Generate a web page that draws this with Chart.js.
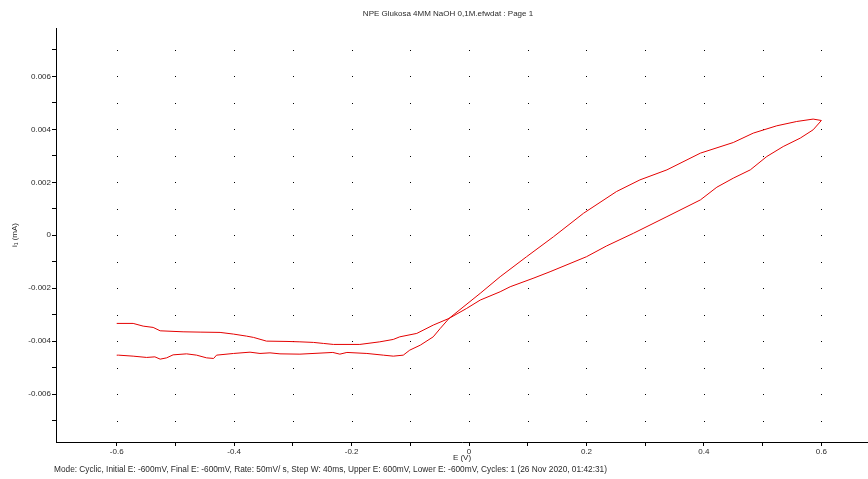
<!DOCTYPE html>
<html>
<head>
<meta charset="utf-8">
<script src="https://cdn.jsdelivr.net/npm/chart.js@4/dist/chart.umd.min.js"></script>
<style>
  html, body { margin: 0; padding: 0; background: #ffffff; }
  #wrap { width: 868px; height: 479px; }
</style>
</head>
<body>
<div id="wrap"><canvas id="cv" width="868" height="479"></canvas></div>
<script>
// Cyclic voltammogram, NPE electrode, 4 mM glucose in 0.1 M NaOH
// Forward sweep: -0.6 V -> 0.6 V  (E in V, i in mA)
const forwardE = [-0.600, -0.597, -0.572, -0.549, -0.535, -0.526, -0.515, -0.504, -0.481, -0.464,
  -0.447, -0.435, -0.430, -0.401, -0.373, -0.356, -0.339, -0.322, -0.288, -0.232,
  -0.220, -0.208, -0.174, -0.146, -0.129, -0.112, -0.101, -0.083, -0.061, -0.049,
  -0.034, 0.019, 0.053, 0.098, 0.144, 0.195, 0.251, 0.291, 0.337, 0.394,
  0.450, 0.484, 0.524, 0.558, 0.586, 0.600];
const forwardI = [-0.004530, -0.004529, -0.004567, -0.004616, -0.004593, -0.004680, -0.004631, -0.004518, -0.004480, -0.004529,
  -0.004631, -0.004654, -0.004529, -0.004465, -0.004416, -0.004465, -0.004442, -0.004480, -0.004491, -0.004427,
  -0.004491, -0.004427, -0.004465, -0.004529, -0.004567, -0.004529, -0.004340, -0.004151, -0.003837, -0.003519,
  -0.003140, -0.002194, -0.001566, -0.000810, -0.000053, 0.000832, 0.001650, 0.002092, 0.002471, 0.003103,
  0.003504, 0.003859, 0.004135, 0.004298, 0.004389, 0.004336];

// Reverse sweep: 0.6 V -> -0.6 V
const reverseE = [0.586, 0.564, 0.535, 0.507, 0.479, 0.450, 0.422, 0.394, 0.337, 0.280,
  0.234, 0.200, 0.138, 0.109, 0.070, 0.053, 0.019, -0.004, -0.034, -0.061,
  -0.089, -0.118, -0.129, -0.152, -0.186, -0.231, -0.248, -0.265, -0.288, -0.310,
  -0.345, -0.367, -0.379, -0.401, -0.424, -0.458, -0.487, -0.526, -0.538, -0.555,
  -0.572, -0.600];
const reverseI = [0.003984, 0.003670, 0.003352, 0.002974, 0.002471, 0.002157, 0.001816, 0.001336, 0.000704, 0.000076,
  -0.000405, -0.000810, -0.001377, -0.001627, -0.001945, -0.002134, -0.002448, -0.002762, -0.003140, -0.003394,
  -0.003708, -0.003837, -0.003935, -0.004026, -0.004124, -0.004124, -0.004086, -0.004048, -0.004026, -0.004011,
  -0.003999, -0.003859, -0.003810, -0.003734, -0.003670, -0.003659, -0.003647, -0.003609, -0.003481, -0.003432,
  -0.003330, -0.003330];

// Axis ticks (every tick gets a mark, every other one a label)
const xTickValues = [-0.6, -0.5, -0.4, -0.3, -0.2, -0.1, 0, 0.1, 0.2, 0.3, 0.4, 0.5, 0.6];
const xTickLabels = ['-0.6', '', '-0.4', '', '-0.2', '', '0', '', '0.2', '', '0.4', '', '0.6'];
const yTickValues = [-0.007, -0.006, -0.005, -0.004, -0.003, -0.002, -0.001, 0, 0.001, 0.002, 0.003, 0.004, 0.005, 0.006, 0.007];
const yTickLabels = ['', '-0.006', '', '-0.004', '', '-0.002', '', '0', '', '0.002', '', '0.004', '', '0.006', ''];

const chartTitle = 'NPE Glukosa 4MM NaOH 0,1M.efwdat : Page 1';
const footerText = 'Mode: Cyclic, Initial E: -600mV, Final E: -600mV, Rate: 50mV/ s, Step W: 40ms, Upper E: 600mV, Lower E: -600mV, Cycles: 1 (26 Nov 2020, 01:42:31)';

const FONT = '"Liberation Sans", Arial, sans-serif';
const TEXT_COLOR = '#2a2a2a';

const points = [];
forwardE.forEach((e, k) => points.push({ x: e, y: forwardI[k] }));
reverseE.forEach((e, k) => points.push({ x: e, y: reverseI[k] }));

// Dotted grid at every tick intersection, plus the header and footer lines
const dotGrid = {
  id: 'dotGrid',
  beforeDatasetsDraw(chart) {
    const { ctx, scales: { x, y } } = chart;
    ctx.save();
    ctx.fillStyle = '#000000';
    xTickValues.forEach(xv => {
      yTickValues.forEach(yv => {
        const px = Math.round(x.getPixelForValue(xv));
        const py = Math.round(y.getPixelForValue(yv));
        ctx.fillRect(px, py, 1, 1);
      });
    });
    ctx.restore();
  },
  afterDraw(chart) {
    const { ctx } = chart;
    ctx.save();
    ctx.fillStyle = TEXT_COLOR;
    ctx.textBaseline = 'middle';
    ctx.textAlign = 'center';
    ctx.font = '8px ' + FONT;
    ctx.fillText(chartTitle, 448, 14);
    ctx.textAlign = 'left';
    ctx.font = '8.3px ' + FONT;
    ctx.fillText(footerText, 54, 470);
    ctx.restore();
  }
};

new Chart(document.getElementById('cv'), {
  type: 'scatter',
  data: {
    datasets: [{
      data: points,
      showLine: true,
      borderColor: 'rgb(228, 0, 0)',
      backgroundColor: 'rgb(228, 0, 0)',
      borderWidth: 1,
      pointRadius: 0,
      tension: 0
    }]
  },
  options: {
    responsive: false,
    animation: false,
    devicePixelRatio: 1,
    layout: { padding: { top: 28, left: 0, right: 0, bottom: 0 } },
    plugins: { legend: { display: false }, tooltip: { enabled: false }, title: { display: false } },
    scales: {
      x: {
        type: 'linear',
        min: -0.7034,
        max: 0.6794,
        afterBuildTicks: s => { s.ticks = xTickValues.map(v => ({ value: v })); },
        afterFit: s => { s.height = 37; },
        border: { display: true, color: '#000000', width: 1 },
        grid: { drawOnChartArea: false, drawTicks: true, tickLength: 4, color: '#000000' },
        ticks: {
          autoSkip: false, maxRotation: 0, padding: 1,
          color: TEXT_COLOR, font: { family: FONT, size: 8 },
          callback: (v, i) => xTickLabels[i]
        },
        title: { display: true, text: 'E (V)', color: TEXT_COLOR, font: { family: FONT, size: 8 }, padding: { top: 0, bottom: 16.5 } }
      },
      y: {
        type: 'linear',
        min: -0.00781,
        max: 0.00783,
        afterBuildTicks: s => { s.ticks = yTickValues.map(v => ({ value: v })); },
        afterFit: s => { s.width = 56; },
        border: { display: true, color: '#000000', width: 1 },
        grid: { drawOnChartArea: false, drawTicks: true, tickLength: 4, color: '#000000' },
        ticks: {
          autoSkip: false, padding: 1,
          color: TEXT_COLOR, font: { family: FONT, size: 8 },
          callback: (v, i) => yTickLabels[i]
        },
        title: { display: true, text: 'i\u2081 (mA)', color: TEXT_COLOR, font: { family: FONT, size: 8 }, padding: { top: 10, bottom: 0 } }
      }
    }
  },
  plugins: [dotGrid]
});
</script>
</body>
</html>
